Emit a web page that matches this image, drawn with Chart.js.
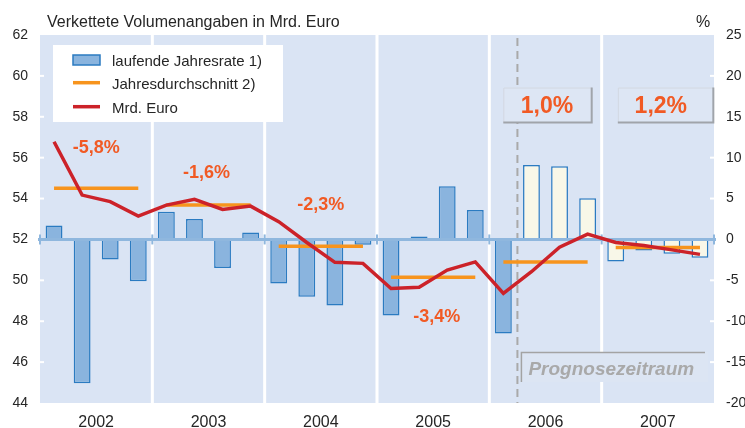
<!DOCTYPE html>
<html><head><meta charset="utf-8">
<script src="https://cdn.jsdelivr.net/npm/chart.js@4/dist/chart.umd.min.js"></script>
<style>html,body{margin:0;padding:0;background:#fff;overflow:hidden}#wrap{width:745px;height:428px;position:relative}</style>
</head><body><div id="wrap"><canvas id="c" width="745" height="428"></canvas></div>
<script>
const FONT = '"Liberation Sans", Arial, Helvetica, sans-serif';

// ---- data ----
const years = ['2002', '2003', '2004', '2005', '2006', '2007'];
const quarterLabels = [
  '2002 Q1','2002 Q2','2002 Q3','2002 Q4',
  '2003 Q1','2003 Q2','2003 Q3','2003 Q4',
  '2004 Q1','2004 Q2','2004 Q3','2004 Q4',
  '2005 Q1','2005 Q2','2005 Q3','2005 Q4',
  '2006 Q1','2006 Q2','2006 Q3','2006 Q4',
  '2007 Q1','2007 Q2','2007 Q3','2007 Q4'
];
// laufende Jahresrate in % (right axis)
const jahresrate = [
  1.7, -17.6, -2.45, -5.1,
  3.4, 2.5, -3.5, 0.86,
  -5.4, -7.0, -8.07, -0.65,
  -9.3, 0.37, 6.5, 3.6,
  -11.5, 9.1, 8.96, 5.05,
  -2.7, -1.35, -1.75, -2.24
];
// Mrd. Euro (left axis)
const mrdEuro = [
  56.78, 54.17, 53.85, 53.14,
  53.68, 53.96, 53.47, 53.63,
  52.87, 51.85, 50.88, 50.83,
  49.6, 49.66, 50.5, 50.9,
  49.36, 50.42, 51.62, 52.26,
  51.85, 51.7, 51.49, 51.27
];
// Jahresdurchschnitt in Mrd. Euro per year (left axis)
const jahresdurchschnitt = [54.5, 53.68, 51.67, 50.15, 50.9, 51.6];
// annual change labels
const jahresLabels = ['-5,8%', '-1,6%', '-2,3%', '-3,4%', '1,0%', '1,2%'];
const firstForecastIndex = 17; // 2006 Q2

// ---- derived series ----
const avgSeries = [];
jahresdurchschnitt.forEach(v => { for (let q = 0; q < 4; q++) avgSeries.push(v); });

// ---- styles ----
const BG = '#dae4f4';
const BAR_FILL = '#8ab4de';
const BAR_FORECAST = '#f8f7e8';
const BAR_BORDER = '#2b7bc1';
const ORANGE = '#f7941d';
const RED = '#cc2229';
const LABEL_RED = '#f15a24';

// annotation placement (left-axis units for y, pixel offsets from year centre for x)
const labelPlace = [
  {dx: 0, y: 56.52, size: 18},
  {dx: -2, y: 55.32, size: 18},
  {dx: 0, y: 53.73, size: 18},
  {dx: 3.5, y: 48.25, size: 18},
  {dx: 1.5, y: 58.55, size: 23, box: [-42.2, 46.2]},
  {dx: 3, y: 58.55, size: 23, box: [-40, 55.5]}
];

function boundaryX(xs, k) {
  if (k === 0) return xs.getPixelForValue(0) - (xs.getPixelForValue(1) - xs.getPixelForValue(0)) / 2;
  if (k * 4 >= quarterLabels.length) return xs.getPixelForValue(23) + (xs.getPixelForValue(1) - xs.getPixelForValue(0)) / 2;
  return (xs.getPixelForValue(4 * k - 1) + xs.getPixelForValue(4 * k)) / 2;
}

const decor = {
  id: 'decor',
  beforeDatasetsDraw(chart) {
    const {ctx, chartArea: a, scales} = chart;
    const xs = scales.x;
    ctx.save();
    ctx.fillStyle = BG;
    ctx.fillRect(a.left, a.top, a.right - a.left, a.bottom - a.top);
    // white year separators
    ctx.strokeStyle = '#ffffff';
    ctx.lineWidth = 3;
    for (let k = 1; k < years.length; k++) {
      const bx = boundaryX(xs, k);
      ctx.beginPath(); ctx.moveTo(bx, a.top); ctx.lineTo(bx, a.bottom); ctx.stroke();
    }
    // white tick marks
    ctx.lineWidth = 2;
    scales.yL.ticks.forEach(t => {
      if (t.value <= scales.yL.min || t.value >= scales.yL.max || t.value === 52) return;
      const y = scales.yL.getPixelForValue(t.value);
      ctx.beginPath(); ctx.moveTo(a.left, y); ctx.lineTo(a.left + 4, y); ctx.stroke();
    });
    scales.yR.ticks.forEach(t => {
      if (t.value <= scales.yR.min || t.value >= scales.yR.max || t.value === 0) return;
      const y = scales.yR.getPixelForValue(t.value);
      ctx.beginPath(); ctx.moveTo(a.right - 4, y); ctx.lineTo(a.right, y); ctx.stroke();
    });
    // dashed forecast line
    const dx = (xs.getPixelForValue(firstForecastIndex - 1) + xs.getPixelForValue(firstForecastIndex)) / 2;
    ctx.strokeStyle = '#a9a9a9';
    ctx.lineWidth = 2;
    ctx.setLineDash([8, 5]);
    ctx.beginPath(); ctx.moveTo(dx, a.top + 3); ctx.lineTo(dx, a.bottom); ctx.stroke();
    ctx.setLineDash([]);
    ctx.restore();
  },
  afterDatasetDraw(chart, args) {
    if (args.index !== 0) return;
    const {ctx, chartArea: a, scales} = chart;
    const y = scales.yR.getPixelForValue(0);
    ctx.save();
    ctx.strokeStyle = '#8fb7de';
    ctx.lineWidth = 3;
    ctx.beginPath(); ctx.moveTo(a.left - 2, y); ctx.lineTo(a.right + 2, y); ctx.stroke();
    ctx.lineWidth = 2;
    for (let k = 0; k <= years.length; k++) {
      const bx = boundaryX(scales.x, k);
      ctx.beginPath(); ctx.moveTo(bx, y - 5); ctx.lineTo(bx, y + 5); ctx.stroke();
    }
    ctx.restore();
  },
  afterDatasetsDraw(chart) {
    const {ctx, chartArea: a, scales} = chart;
    const xs = scales.x, yL = scales.yL;
    ctx.save();
    // title + unit
    ctx.fillStyle = '#262626';
    ctx.font = '16px ' + FONT;
    ctx.textAlign = 'left';
    ctx.textBaseline = 'alphabetic';
    ctx.fillText('Verkettete Volumenangaben in Mrd. Euro', 47, 27);
    ctx.fillText('%', 696, 27);

    // legend
    const ds = chart.data.datasets;
    ctx.fillStyle = '#ffffff';
    ctx.fillRect(53, 45, 230, 77);
    ctx.fillStyle = BAR_FILL; ctx.strokeStyle = BAR_BORDER; ctx.lineWidth = 1.5;
    ctx.fillRect(73, 55, 27, 10); ctx.strokeRect(73, 55, 27, 10);
    ctx.lineWidth = 3.5;
    ctx.strokeStyle = ORANGE;
    ctx.beginPath(); ctx.moveTo(73, 82.7); ctx.lineTo(100, 82.7); ctx.stroke();
    ctx.strokeStyle = RED;
    ctx.beginPath(); ctx.moveTo(73, 106.7); ctx.lineTo(100, 106.7); ctx.stroke();
    ctx.fillStyle = '#262626';
    ctx.font = '15px ' + FONT;
    ctx.fillText(ds[0].label, 112, 66);
    ctx.fillText(ds[1].label, 112, 89.3);
    ctx.fillText(ds[2].label, 112, 112.7);

    // year change labels
    ctx.textAlign = 'center';
    ctx.textBaseline = 'middle';
    jahresLabels.forEach((txt, i) => {
      const p = labelPlace[i];
      const cx = (boundaryX(xs, i) + boundaryX(xs, i + 1)) / 2;
      const cy = yL.getPixelForValue(p.y);
      if (p.box) {
        const l = cx + p.box[0], r = cx + p.box[1], t = cy - 18, b = cy + 17;
        ctx.fillStyle = '#dde6f4';
        ctx.fillRect(l, t, r - l, b - t);
        ctx.strokeStyle = '#d2d8e2'; ctx.lineWidth = 1;
        ctx.beginPath(); ctx.moveTo(l + 0.5, b); ctx.lineTo(l + 0.5, t + 0.5); ctx.lineTo(r, t + 0.5); ctx.stroke();
        ctx.strokeStyle = '#a0a4aa'; ctx.lineWidth = 2;
        ctx.beginPath(); ctx.moveTo(l, b); ctx.lineTo(r, b); ctx.lineTo(r, t); ctx.stroke();
      }
      ctx.fillStyle = LABEL_RED;
      ctx.font = 'bold ' + p.size + 'px ' + FONT;
      ctx.fillText(txt, cx + p.dx, cy + 1);
    });

    // Prognosezeitraum box
    const px0 = (xs.getPixelForValue(firstForecastIndex - 1) + xs.getPixelForValue(firstForecastIndex)) / 2 + 3;
    ctx.fillStyle = '#dce5f3';
    ctx.fillRect(px0, 352, a.right - 6 - px0, 30);
    ctx.strokeStyle = '#a3a3a3';
    ctx.lineWidth = 1.5;
    ctx.beginPath(); ctx.moveTo(px0 + 1, 382); ctx.lineTo(px0 + 1, 352.5); ctx.lineTo(a.right - 9, 352.5); ctx.stroke();
    ctx.fillStyle = '#a9a9a9';
    ctx.font = 'italic bold 19px ' + FONT;
    ctx.textAlign = 'left';
    ctx.textBaseline = 'alphabetic';
    ctx.fillText('Prognosezeitraum', px0 + 8, 375);
    ctx.restore();
  }
};

new Chart(document.getElementById('c'), {
  data: {
    labels: quarterLabels,
    datasets: [
      {
        type: 'bar', label: 'laufende Jahresrate 1)', data: jahresrate,
        xAxisID: 'x', yAxisID: 'yR',
        backgroundColor: jahresrate.map((v, i) => i >= firstForecastIndex ? BAR_FORECAST : BAR_FILL),
        borderColor: BAR_BORDER, borderWidth: 1.5, borderSkipped: false,
        barPercentage: 0.6, categoryPercentage: 1, order: 3
      },
      {
        type: 'line', label: 'Jahresdurchschnitt 2)', data: avgSeries,
        xAxisID: 'x', yAxisID: 'yL',
        borderColor: ORANGE, borderWidth: 3.5, pointRadius: 0, tension: 0, borderCapStyle: 'butt',
        segment: { borderColor: c => (c.p0DataIndex % 4 === 3 ? 'rgba(0,0,0,0)' : ORANGE) },
        order: 2
      },
      {
        type: 'line', label: 'Mrd. Euro', data: mrdEuro,
        xAxisID: 'x', yAxisID: 'yL',
        borderColor: RED, borderWidth: 3.5, pointRadius: 0, tension: 0,
        order: 1
      }
    ]
  },
  options: {
    responsive: false,
    animation: false,
    layout: { padding: { top: 35, left: 0, right: 0, bottom: 0 } },
    plugins: { legend: { display: false }, tooltip: { enabled: false } },
    scales: {
      x: { type: 'category', display: false, offset: true },
      xYear: {
        type: 'category', labels: years, position: 'bottom', offset: true,
        grid: { display: false, drawTicks: false }, border: { display: false },
        ticks: { color: '#262626', font: { size: 16, family: FONT }, padding: 10 },
        afterFit: s => { s.height = 25; }
      },
      yL: {
        position: 'left', min: 44, max: 62,
        grid: { display: false, drawTicks: false }, border: { display: false },
        ticks: { stepSize: 2, padding: 12, color: '#262626', font: { size: 14, family: FONT } },
        afterFit: s => { s.width = 40; }
      },
      yR: {
        position: 'right', min: -20, max: 25,
        grid: { display: false, drawTicks: false }, border: { display: false },
        ticks: { stepSize: 5, padding: 12, color: '#262626', font: { size: 14, family: FONT } },
        afterFit: s => { s.width = 31; }
      }
    }
  },
  plugins: [decor]
});
</script>
</body></html>
